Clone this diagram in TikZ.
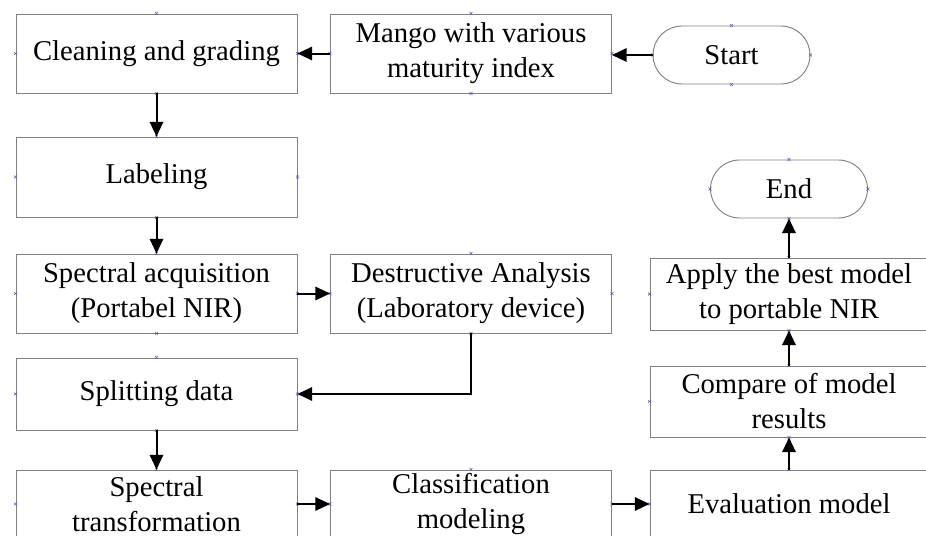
\documentclass[tikz,border=0pt]{standalone}
\usepackage{fontspec}
\setmainfont{Liberation Serif}
\usetikzlibrary{arrows.meta}
\definecolor{boxgray}{RGB}{128,128,128}
\definecolor{pinblue}{RGB}{90,90,180}
\begin{document}
\begin{tikzpicture}[x=0.75pt,y=-0.75pt,
    box/.style={draw=boxgray, line width=0.7pt, minimum width=210.75pt,
      minimum height=59.25pt, inner sep=0pt, align=center},
    terminal/.style={box, rounded corners=21.75pt, minimum width=117.75pt,
      minimum height=43.5pt},
    flow/.style={line width=1.5pt, -{Triangle[length=11pt,width=10pt]}},
    cpoint/.style={draw=pinblue, line width=0.4pt}]
                \useasboundingbox (0,0) rectangle (926,536);
                \clip (0,0) rectangle (926,536);
                {\fontsize{21.5}{26.25}\selectfont

                % Drawing box clean
                \node (clean) at (156.5,53.5) [box] {Cleaning and grading};%

                % Drawing box mango
                \node (mango) at (471,53.5) [box] {Mango with various\\maturity index};%

                % Drawing terminal start
                \node (start) at (731.5,55) [terminal] {Start};%

                % Drawing box labeling
                \node (labeling) at (156.5,177) [box, minimum height=60pt] {Labeling};%

                % Drawing box acquisition
                \node (acquisition) at (156.5,293.5) [box] {Spectral acquisition\\(Portabel NIR)};%

                % Drawing box destructive
                \node (destructive) at (471,293.5) [box] {Destructive Analysis\\(Laboratory device)};%

                % Drawing box splitting
                \node (splitting) at (156.5,394) [box, minimum height=54pt] {Splitting data};%

                % Drawing box transformation
                \node (transformation) at (156.5,504) [box, minimum height=51pt] {Spectral\\transformation};%

                % Drawing box classification
                \node (classification) at (471,504) [box, minimum height=51pt] {Classification\\modeling};%

                % Drawing box evaluation
                \node (evaluation) at (789,504) [box, minimum width=208.5pt, minimum height=51pt] {Evaluation model};%

                % Drawing box compare
                \node (compare) at (789,401.5) [box, minimum width=208.5pt, minimum height=53.25pt] {Compare of model\\results};%

                % Drawing box apply
                \node (apply) at (789,294) [box, minimum width=208.5pt, minimum height=54pt] {Apply the best model\\to portable NIR};%

                % Drawing terminal end
                \node (finish) at (789,189) [terminal] {End};%
                }

                % Marking connection points
                \foreach \n in {clean,mango,start,labeling,acquisition,destructive,splitting,
                  transformation,classification,evaluation,compare,apply,finish}
                  \foreach \a in {north,south,east,west}
                    \draw [cpoint] ([shift={(-1.5,-1.5)}]\n.\a) -- ++(3,3)
                      ([shift={(-1.5,1.5)}]\n.\a) -- ++(3,-3);%

                % Drawing flow start mango
                \draw [flow] (start.west) -- (start.west -| mango.east);%

                % Drawing flow mango clean
                \draw [flow] (mango.west) -- (clean.east);%

                % Drawing flow clean labeling
                \draw [flow] (clean.south) -- (labeling.north);%

                % Drawing flow labeling acquisition
                \draw [flow] (labeling.south) -- (acquisition.north);%

                % Drawing flow acquisition destructive
                \draw [flow] (acquisition.east) -- (destructive.west);%

                % Drawing flow destructive splitting
                \draw [flow] (destructive.south) |- (splitting.east);%

                % Drawing flow splitting transformation
                \draw [flow] (splitting.south) -- (transformation.north);%

                % Drawing flow transformation classification
                \draw [flow] (transformation.east) -- (classification.west);%

                % Drawing flow classification evaluation
                \draw [flow] (classification.east) -- (evaluation.west);%

                % Drawing flow evaluation compare
                \draw [flow] (evaluation.north) -- (compare.south);%

                % Drawing flow compare apply
                \draw [flow] (compare.north) -- (apply.south);%

                % Drawing flow apply finish
                \draw [flow] (apply.north) -- (finish.south);%
            \end{tikzpicture}
\end{document}
